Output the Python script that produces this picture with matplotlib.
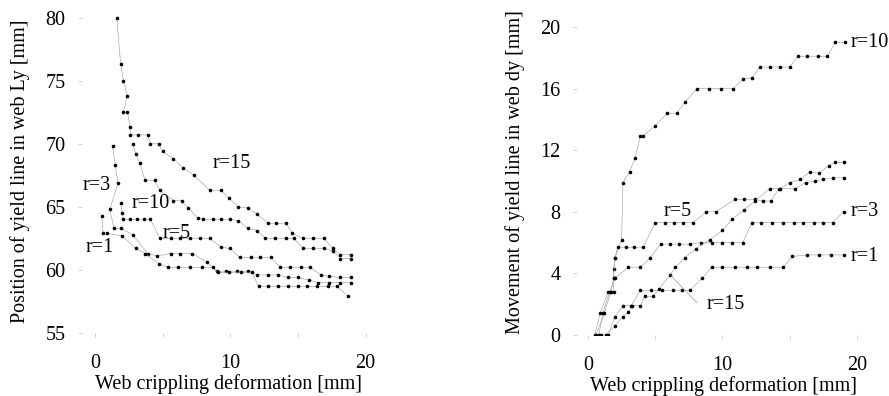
import matplotlib
matplotlib.use("Agg")
from matplotlib import pyplot as plt

plt.rcParams['font.family'] = ['Liberation Serif', 'DejaVu Serif']

# Left panel: position of yield line Ly [mm] vs web crippling deformation [mm]
ly_r15_x = [1.6, 1.9, 2.1, 2.4, 2.1, 2.4, 2.6, 2.6, 3.2, 3.9, 4.1, 4.7, 5.0, 5.8, 6.5, 7.3, 8.5, 9.3, 9.9,
            10.6, 11.3, 12.0, 12.8, 13.4, 14.1, 14.6, 15.4, 16.1, 16.9, 17.6, 18.1, 18.9]
ly_r15_y = [80.0, 76.3, 75.0, 73.8, 72.5, 72.5, 71.3, 70.7, 70.7, 70.7, 70.0, 70.0, 69.4, 68.8, 68.1, 67.5,
            66.3, 66.3, 65.7, 65.0, 64.9, 64.4, 63.7, 63.7, 63.7, 62.9, 62.5, 62.5, 62.5, 61.7, 61.2, 61.2]
ly_r10_x = [2.8, 3.0, 3.3, 3.7, 4.4, 4.8, 5.8, 6.4, 6.9, 7.6, 8.0, 8.7, 9.3, 10.0, 10.6, 11.3, 12.0, 12.6,
            13.3, 14.1, 14.7, 15.4, 16.1, 16.9, 17.6, 18.1, 18.9]
ly_r10_y = [70.0, 69.2, 68.5, 67.1, 67.1, 66.3, 65.5, 65.5, 64.9, 64.1, 64.0, 64.0, 64.0, 64.0, 63.9, 63.3,
            63.1, 62.5, 62.5, 62.5, 62.5, 61.7, 61.7, 61.7, 61.5, 60.9, 60.9]
ly_r5_x = [1.9, 2.0, 2.1, 2.6, 3.1, 3.6, 4.1, 4.8, 5.6, 6.3, 7.0, 7.8, 8.5, 9.3, 10.0, 10.7, 11.5, 12.2,
           13.0, 13.7, 14.4, 15.2, 15.9, 16.7, 17.3, 18.1, 18.9]
ly_r5_y = [65.3, 64.5, 64.0, 64.0, 64.0, 64.0, 64.0, 62.5, 62.5, 62.5, 62.5, 62.5, 62.5, 61.8, 61.7, 61.0,
           61.0, 61.0, 61.0, 60.2, 60.2, 60.2, 60.2, 59.6, 59.5, 59.4, 59.4]
ly_r3_x = [1.3, 1.5, 1.7, 1.1, 1.4, 1.9, 2.8, 3.9, 4.6, 5.6, 6.3, 7.2, 8.3, 9.0, 9.7, 10.5, 11.3, 12.0,
           12.8, 13.5, 14.3, 15.0, 15.8, 16.5, 17.3, 18.1, 18.9]
ly_r3_y = [69.8, 68.3, 66.9, 64.8, 63.3, 63.3, 62.8, 61.3, 61.1, 61.3, 61.3, 61.3, 60.6, 59.9, 59.9, 59.9,
           59.9, 59.6, 59.6, 59.6, 59.4, 59.4, 59.2, 59.0, 59.0, 59.0, 59.0]
ly_r1_x = [0.5, 0.6, 0.9, 2.0, 3.0, 3.7, 4.7, 5.4, 6.1, 7.0, 7.9, 8.7, 9.1, 9.9, 10.8, 11.6, 12.1, 12.8,
           13.5, 14.3, 15.0, 15.7, 16.4, 17.2, 17.9, 18.7]
ly_r1_y = [64.3, 62.9, 62.9, 62.7, 61.7, 61.3, 60.5, 60.2, 60.2, 60.2, 60.2, 60.2, 59.8, 59.8, 59.8, 59.8,
           58.7, 58.7, 58.7, 58.7, 58.7, 58.7, 58.7, 58.7, 58.7, 57.9]

# Right panel: movement of yield line dy [mm] vs web crippling deformation [mm]
dy_r10_x = [0.5, 0.9, 1.5, 1.9, 1.9, 1.9, 2.0, 2.5, 2.6, 3.1, 3.5, 3.9, 4.1, 5.0, 5.9, 6.6, 7.2, 8.1, 9.0,
            9.9, 10.8, 11.5, 12.2, 12.8, 13.5, 14.3, 15.0, 15.6, 16.3, 17.1, 17.8, 18.4, 19.1]
dy_r10_y = [0.0, 1.4, 2.8, 2.8, 3.7, 4.3, 5.0, 6.2, 9.9, 10.6, 11.5, 12.9, 12.9, 13.6, 14.4, 14.4, 15.1,
            16.0, 16.0, 16.0, 16.0, 16.6, 16.7, 17.4, 17.4, 17.4, 17.4, 18.1, 18.1, 18.1, 18.1, 19.0, 19.0]
dy_r5_x = [0.6, 1.2, 1.7, 1.9, 2.0, 2.2, 2.8, 3.4, 4.1, 5.0, 5.7, 6.4, 7.1, 7.8, 8.8, 9.5, 10.9, 11.6,
           12.4, 13.0, 13.6, 14.2, 15.4, 16.2, 16.9, 17.5, 18.2, 19.0]
dy_r5_y = [0.0, 1.4, 2.8, 3.7, 5.0, 5.7, 5.7, 5.7, 5.7, 7.3, 7.3, 7.3, 7.3, 7.3, 8.0, 8.0, 8.8, 8.8, 8.8,
           8.7, 8.7, 9.5, 9.5, 9.9, 10.0, 10.1, 10.2, 10.2]
dy_r3_x = [0.8, 1.1, 1.6, 2.0, 3.0, 3.9, 4.6, 5.4, 6.1, 6.8, 7.6, 8.4, 9.2, 10.0, 10.7, 11.5, 12.2, 12.9,
           13.7, 14.5, 15.3, 16.0, 16.8, 17.5, 18.2, 19.0]
dy_r3_y = [0.0, 1.4, 2.8, 3.7, 4.4, 4.4, 5.0, 5.9, 5.9, 5.9, 5.9, 6.0, 6.0, 6.0, 6.0, 6.0, 7.3, 7.3, 7.3,
           7.3, 7.3, 7.3, 7.3, 7.3, 7.3, 8.0]
dy_r1_x = [1.0, 1.5, 2.0, 2.6, 3.2, 3.9, 4.7, 5.5, 6.3, 7.0, 7.6, 8.5, 9.2, 10.0, 10.9, 11.8, 12.6, 13.5,
           14.5, 15.2, 16.3, 17.2, 18.1, 19.0]
dy_r1_y = [0.0, 0.0, 1.2, 1.9, 1.9, 2.9, 2.9, 2.9, 2.9, 2.9, 2.9, 3.7, 4.4, 4.4, 4.4, 4.4, 4.4, 4.4, 4.4,
           5.1, 5.2, 5.2, 5.2, 5.2]
dy_r15_x = [1.3, 2.0, 2.6, 3.0, 3.3, 3.9, 4.2, 4.8, 5.3, 6.1, 6.5, 7.2, 8.0, 9.1, 10.0, 10.7, 11.6, 12.4,
            13.5, 14.3, 15.0, 15.8, 16.5, 17.2, 17.9, 18.4, 19.0]
dy_r15_y = [0.0, 0.6, 1.2, 1.5, 1.9, 1.9, 2.5, 2.5, 3.0, 3.9, 4.4, 5.0, 5.6, 6.2, 6.8, 7.5, 8.1, 8.7, 9.5,
            9.5, 9.9, 10.1, 10.6, 10.5, 11.0, 11.2, 11.2]

left_series = [(ly_r15_x, ly_r15_y), (ly_r10_x, ly_r10_y), (ly_r5_x, ly_r5_y),
               (ly_r3_x, ly_r3_y), (ly_r1_x, ly_r1_y)]
right_series = [(dy_r10_x, dy_r10_y), (dy_r5_x, dy_r5_y), (dy_r3_x, dy_r3_y),
                (dy_r1_x, dy_r1_y), (dy_r15_x, dy_r15_y)]

fs = 14.5
fig = plt.figure(figsize=(8.89, 3.96), dpi=100)
ax1 = fig.add_axes([82/889, 1 - 333/396, 293/889, 323/396])
ax2 = fig.add_axes([577/889, 1 - 335/396, 293/889, 325/396])

for x, y in left_series:
    ax1.plot(x, y, color='#999999', lw=0.4)
    ax1.plot(x, y, 'o', color='k', ms=2.6, mew=0)
for x, y in right_series:
    ax2.plot(x, y, color='#999999', lw=0.4)
    ax2.plot(x, y, 'o', color='k', ms=2.6, mew=0)

# curve labels
ax1.text(8.7, 68.4, "r=15", fontsize=fs, va='center')
ax1.text(2.7, 65.3, "r=10", fontsize=fs, va='center')
ax1.text(5.0, 62.9, "r=5", fontsize=fs, va='center')
ax1.text(-0.9, 66.7, "r=3", fontsize=fs, va='center')
ax1.text(-0.7, 61.8, "r=1", fontsize=fs, va='center')

ax2.text(19.5, 19.0, "r=10", fontsize=fs, va='center')
ax2.text(19.5, 8.0, "r=3", fontsize=fs, va='center')
ax2.text(19.5, 5.1, "r=1", fontsize=fs, va='center')
ax2.text(5.6, 8.0, "r=5", fontsize=fs, va='center')
ax2.text(8.85, 1.95, "r=15", fontsize=fs, va='center')
ax2.plot([6.1, 8.1], [3.9, 2.1], color='#999999', lw=0.5)

ax1.set_xlim(-0.96, 20.7)
ax1.set_ylim(55, 80.6)
ax1.set_yticks([55, 60, 65, 70, 75, 80])
ax2.set_xlim(-0.82, 20.97)
ax2.set_ylim(0, 21.1)
ax2.set_yticks([0, 4, 8, 12, 16, 20])

for ax in (ax1, ax2):
    for s in ax.spines.values():
        s.set_visible(False)
    ax.set_xticks([0, 10, 20])
    ax.set_xticks([5, 15], minor=True)
    ax.tick_params(axis='both', which='both', direction='out', length=3, width=0.6,
                   color='#cccccc', labelsize=fs)
    ax.tick_params(axis='x', pad=12)
    ax.tick_params(axis='y', pad=9)
    ax.set_xlabel("Web crippling deformation [mm]", fontsize=fs, labelpad=1)

ax1.set_ylabel("Position of yield line in web Ly [mm]", fontsize=fs, labelpad=11)
ax2.set_ylabel("Movement of yield line in web dy [mm]", fontsize=fs, labelpad=11)

plt.savefig("out.png", dpi=100)
